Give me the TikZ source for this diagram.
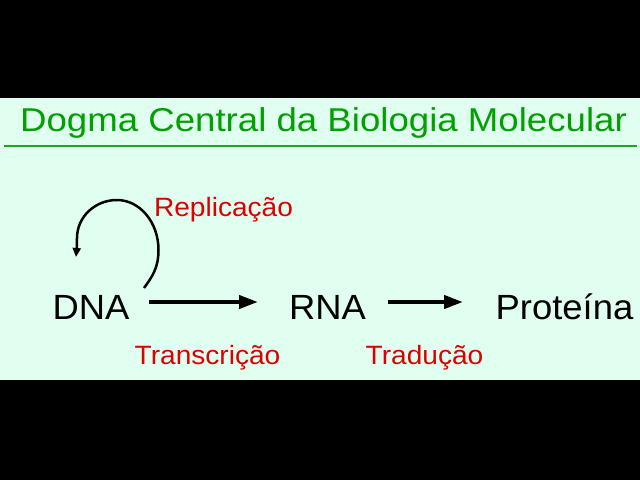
\documentclass[tikz,border=0pt]{standalone}
\usepackage{fontspec}
\setmainfont{Liberation Sans}
\usetikzlibrary{arrows.meta}
\definecolor{bgc}{HTML}{E0FFF0}
\definecolor{titc}{HTML}{00A000}
\definecolor{labc}{HTML}{DD0000}
\tikzset{
  titlebox/.style={anchor=base,inner sep=0pt,text=titc,font=\fontsize{33}{33}\selectfont},
  molbox/.style={anchor=base,inner sep=0pt,text=black,font=\fontsize{35}{35}\selectfont},
  labbox/.style={anchor=base,inner sep=0pt,text=labc,font=\fontsize{26.5}{26.5}\selectfont},
  bigarrow/.style={line width=4pt,-{Triangle[length=19pt,width=13pt]}},
  looparrow/.style={line width=2.5pt,-{Triangle[length=9pt,width=8pt]}}
}
\begin{document}
\begin{tikzpicture}[x=1pt,y=-1pt]
\useasboundingbox (0,0) rectangle (640,480);
\fill[black] (0,0) rectangle (640,480);
\fill[bgc] (0,98) rectangle (640,380);
\node[titlebox] (title) at (323.5,131) {\scalebox{1.11}[1]{Dogma Central da Biologia Molecular}};
\draw[titc!90!white,line width=2.8pt] (3.5,146) -- (637,146);
\node[molbox] (dna) at (91,319) {\scalebox{1.04}[1]{DNA}};
\node[molbox] (rna) at (327.5,319) {\scalebox{1.04}[1]{RNA}};
\node[molbox] (prot) at (564.5,319) {\scalebox{1.04}[1]{Proteína}};
\node[labbox] (rep) at (223.5,216) {\scalebox{1.06}[1]{Replicação}};
\node[labbox] (tra) at (207.5,364) {\scalebox{1.06}[1]{Transcrição}};
\node[labbox] (trad) at (424.5,364) {\scalebox{1.06}[1]{Tradução}};
\coordinate (a1s) at (149,302);
\coordinate (a1e) at (258,302);
\coordinate (a2s) at (388,302);
\coordinate (a2e) at (463,302);
\coordinate (ls) at (144,288);
\coordinate (le) at (76,257);
\draw[bigarrow] (a1s) -- (a1e);
\draw[bigarrow] (a2s) -- (a2e);
\draw[looparrow] (ls) .. controls (152,277) and (158.5,268) .. (158.5,250)
  .. controls (158.5,222.4) and (139.9,200) .. (117,200)
  .. controls (94.9,200) and (77,217) .. (77,238)
  .. controls (77,246) and (76.5,251) .. (le);
\end{tikzpicture}
\end{document}
